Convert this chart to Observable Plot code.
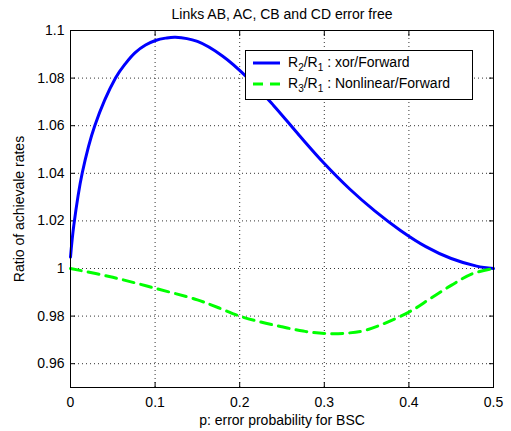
<!DOCTYPE html>
<html>
<head>
<meta charset="utf-8">
<script src="https://cdn.jsdelivr.net/npm/d3@7"></script>
<script src="https://cdn.jsdelivr.net/npm/@observablehq/plot@0.6"></script>
<style>
  html, body { margin: 0; padding: 0; background: #fff; }
  #chart svg { display: block; }
</style>
</head>
<body>
<div id="chart"></div>
<script>
// ---- data ----
const titleText = "Links AB, AC, CB and CD error free";
const xLabel = "p: error probability for BSC";
const yLabel = "Ratio of achievale rates";

const xTicks = [0, 0.1, 0.2, 0.3, 0.4, 0.5];
const yTicks = [0.96, 0.98, 1, 1.02, 1.04, 1.06, 1.08, 1.1];

const pXor = [0, 0.0039, 0.0138, 0.0287, 0.0532, 0.065, 0.0768, 0.0887, 0.1005, 0.1123, 0.124, 0.15, 0.18, 0.21, 0.24, 0.27, 0.30, 0.33, 0.36, 0.39, 0.42, 0.45, 0.48, 0.5];
const ratioXor = [1.0048, 1.0181, 1.04, 1.06, 1.08, 1.0861, 1.0908, 1.0939, 1.0958, 1.0968, 1.0972, 1.0954, 1.0892, 1.0799, 1.0685, 1.0561, 1.0441, 1.0334, 1.0241, 1.0160, 1.0092, 1.0042, 1.0010, 1.0];

const pNonlin = [0, 0.05, 0.1, 0.15, 0.175, 0.2, 0.225, 0.25, 0.275, 0.3, 0.325, 0.35, 0.4, 0.425, 0.45, 0.475, 0.5];
const ratioNonlin = [1.0, 0.9963, 0.9917, 0.9868, 0.9835, 0.98, 0.9775, 0.9755, 0.9737, 0.9727, 0.9728, 0.9742, 0.9817, 0.9873, 0.9929, 0.9978, 1.0];

const seriesNames = ["xor/Forward", "Nonlinear/Forward"];
const seriesSub = ["2", "3"];
const seriesColors = ["#0000ff", "#00ff00"];

// ---- build ----
const xorData = pXor.map((p, i) => ({p, r: ratioXor[i]}));
const nonData = pNonlin.map((p, i) => ({p, r: ratioNonlin[i]}));
const fmt = d => String(d);
const FONT = "'Liberation Sans', Arial, Helvetica, sans-serif";

const plot = Plot.plot({
  width: 511,
  height: 431,
  marginTop: 30,
  marginLeft: 70,
  marginRight: 18,
  marginBottom: 44,
  style: {fontFamily: FONT, fontSize: "14px", color: "#000", background: "#fff"},
  x: {domain: [0, 0.5]},
  y: {domain: [0.95, 1.1]},
  marks: [
    Plot.gridX(xTicks, {stroke: "#333", strokeOpacity: 1, strokeDasharray: "1,3"}),
    Plot.gridY(yTicks, {stroke: "#333", strokeOpacity: 1, strokeDasharray: "1,3"}),
    // inward ticks on all four sides
    Plot.axisX(xTicks, {anchor: "bottom", tickSize: -5, text: null, label: null}),
    Plot.axisX(xTicks, {anchor: "top", tickSize: -5, text: null, label: null}),
    Plot.axisY(yTicks, {anchor: "left", tickSize: -5, text: null, label: null}),
    Plot.axisY(yTicks, {anchor: "right", tickSize: -5, text: null, label: null}),
    // labels
    Plot.axisX(xTicks, {anchor: "bottom", tickSize: 0, tickPadding: 10, tickFormat: fmt,
      label: xLabel, labelAnchor: "center", labelArrow: "none", labelOffset: 37}),
    Plot.axisY(yTicks, {anchor: "left", tickSize: 0, tickPadding: 6, tickFormat: fmt,
      label: yLabel, labelAnchor: "center", labelArrow: "none", labelOffset: 56}),
    Plot.line(xorData, {x: "p", y: "r", stroke: seriesColors[0], strokeWidth: 3, curve: "catmull-rom"}),
    Plot.line(nonData, {x: "p", y: "r", stroke: seriesColors[1], strokeWidth: 3, strokeDasharray: "11,7", curve: "catmull-rom"}),
    Plot.frame({stroke: "#000", strokeWidth: 1}),
    Plot.text([titleText], {frameAnchor: "top", dy: -12, lineAnchor: "bottom", fontSize: 14})
  ]
});

document.getElementById("chart").appendChild(plot);

// ---- legend (MATLAB-style box inside axes) ----
const svg = d3.select(plot);
const lg = svg.append("g")
  .attr("font-family", FONT).attr("font-size", 14)
  .attr("text-anchor", "start").style("text-anchor", "start");
const bx = 245, by = 50, bw = 227, bh = 49;
lg.append("rect").attr("x", bx + 0.5).attr("y", by + 0.5).attr("width", bw).attr("height", bh)
  .attr("fill", "#fff").attr("stroke", "#000").attr("stroke-width", 1);
seriesNames.forEach((name, i) => {
  const yy = by + 13 + i * 21;
  lg.append("line").attr("x1", bx + 8).attr("x2", bx + 35).attr("y1", yy).attr("y2", yy)
    .attr("stroke", seriesColors[i]).attr("stroke-width", 3)
    .attr("stroke-dasharray", i === 1 ? "10,7" : null);
  const t = lg.append("text").attr("x", bx + 43).attr("y", yy + 4).attr("text-anchor", "start").attr("fill", "#000");
  t.append("tspan").text("R");
  t.append("tspan").attr("font-size", 10).attr("dy", 4).text(seriesSub[i]);
  t.append("tspan").attr("dy", -4).text("/R");
  t.append("tspan").attr("font-size", 10).attr("dy", 4).text("1");
  t.append("tspan").attr("dy", -4).text(" : " + name);
});
</script>
</body>
</html>
